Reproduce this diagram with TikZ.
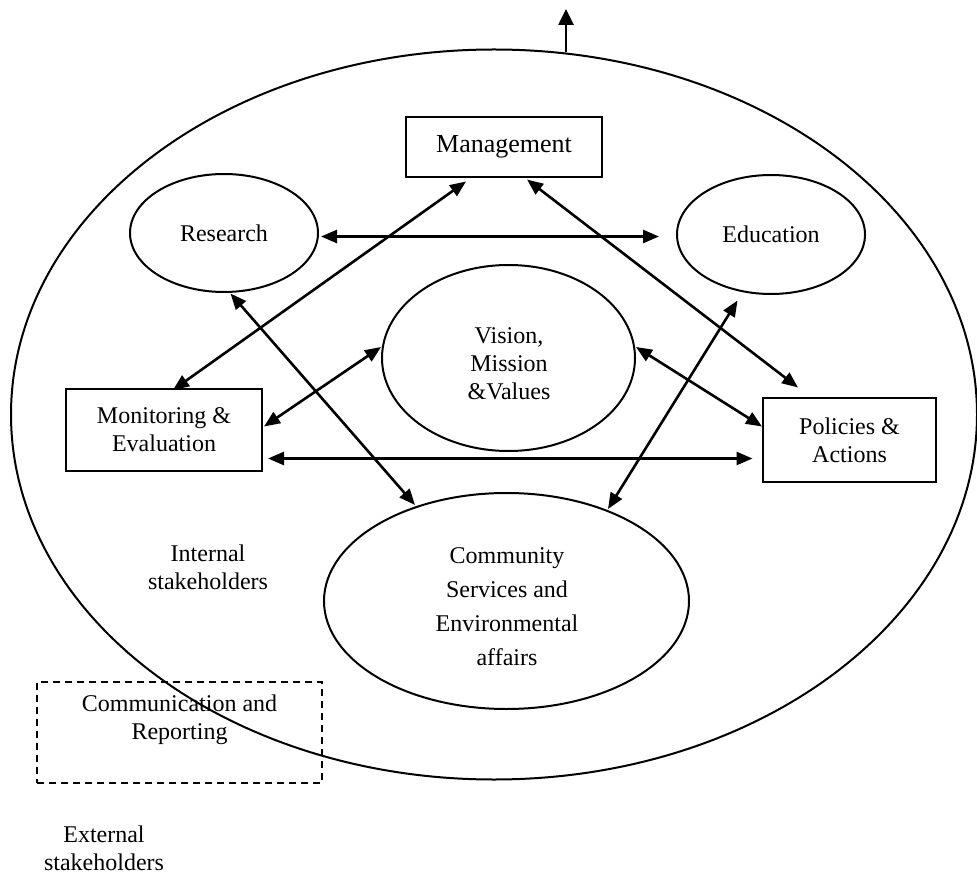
\documentclass[tikz,border=0pt]{standalone}
\usepackage{fontspec}
\setmainfont{Liberation Serif}
\usetikzlibrary{arrows.meta,shapes.geometric,calc}
\tikzset{
  lbl/.style={align=center, font=\fontsize{24}{28}\selectfont, inner sep=0pt},
  oval/.style={ellipse, draw, line width=2pt, inner sep=0pt, align=center, font=\fontsize{24}{28}\selectfont},
  boxnode/.style={rectangle, draw, line width=2pt, inner sep=0pt, align=center, font=\fontsize{24}{28}\selectfont},
  dashbox/.style={rectangle, draw, line width=2pt, dash pattern=on 7pt off 5pt, inner sep=0pt},
  biarrow/.style={line width=2.6pt, {Triangle[length=16pt,width=13pt]}-{Triangle[length=16pt,width=13pt]}},
  uparrow/.style={line width=2.6pt, -{Triangle[length=16pt,width=15pt]}},
}
\begin{document}
\begin{tikzpicture}[x=1pt,y=-1pt]
\useasboundingbox (0,0) rectangle (977,874);
% outer ellipse
\node[ellipse, draw, line width=2pt, minimum width=966pt, minimum height=730pt, inner sep=0pt] (big) at (494,414.5) {};
% nodes
\node[boxnode, minimum width=196pt, minimum height=60pt, font=\fontsize{26}{30}\selectfont] (mgmt) at (504,147) {Management};
\node[oval, minimum width=188pt, minimum height=118pt] (research) at (224,233) {Research};
\node[oval, minimum width=188pt, minimum height=119pt] (edu) at (771,234.5) {Education};
\node[oval, minimum width=253pt, minimum height=186pt] (vision) at (508.5,358) {};
\node[lbl] (visiontext) at (509,364) {Vision,\\Mission\\\&Values};
\node[boxnode, minimum width=196pt, minimum height=82pt] (mon) at (164,430) {Monitoring \&\\Evaluation};
\node[boxnode, minimum width=173pt, minimum height=84pt] (pol) at (849.5,440) {Policies \&\\Actions};
\node[oval, minimum width=365pt, minimum height=216pt] (community) at (506.5,601) {};
\node[lbl, font=\fontsize{24}{34}\selectfont] (communitytext) at (507,607) {Community\\Services and\\Environmental\\affairs};
\node[lbl] (internal) at (208,567) {Internal\\stakeholders};
\node[dashbox, minimum width=285pt, minimum height=101pt] (report) at (179.5,732.5) {};
\node[lbl] (reporttext) at (179.5,720) {Communication and\\Reporting};
\node[lbl] (external) at (104,848) {External\\stakeholders};
% connectors
\draw[biarrow] ($(research.east)+(2,3.5)$) -- ($(edu.west)+(-17,2)$);
\draw[biarrow] ($(mgmt.south)+(-38,3.5)$) -- ($(mon.north)+(9,2)$);
\draw[biarrow] ($(mgmt.south)+(23,1.5)$) -- ($(pol.north)+(-51.5,-9.5)$);
\draw[biarrow] ($(research.south)+(6.5,0.5)$) -- ($(community.north)+(-91.5,13)$);
\draw[biarrow] ($(edu.south)+(-33.5,5.5)$) -- ($(community.north)+(101.5,17)$);
\draw[biarrow] ($(vision.west)+(0,-11)$) -- ($(mon.east)+(1,-3.5)$);
\draw[biarrow] ($(vision.east)+(0,-11)$) -- ($(pol.west)+(0,-13.5)$);
\draw[biarrow] ($(mon.east)+(5,28.5)$) -- ($(pol.west)+(-9.5,18.5)$);
\coordinate (topend) at (566,9);
\draw[uparrow] ($(topend |- big.north)+(0,4)$) -- (topend);
\end{tikzpicture}
\end{document}
